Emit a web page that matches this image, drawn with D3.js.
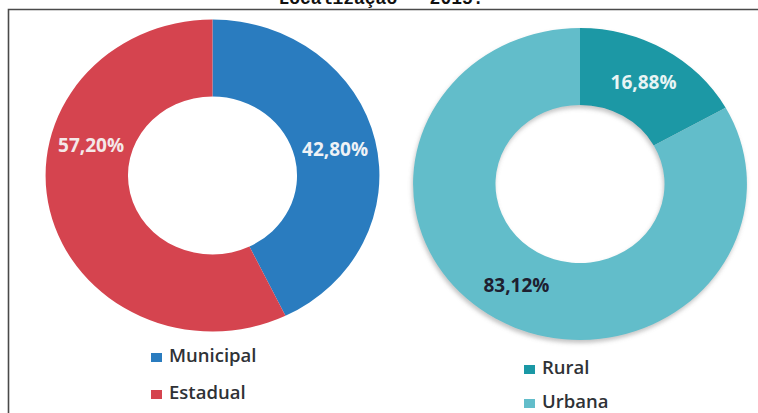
<!DOCTYPE html>
<html>
<head>
<meta charset="utf-8">
<script src="https://cdn.jsdelivr.net/npm/d3@7"></script>
<style>
  body { margin: 0; background: #fff; }
</style>
</head>
<body>
<div id="wrapper"></div>
<script>
// data
const titulo = "Localização – 2015.";
const redeCategorias = ["Municipal", "Estadual"];
const redeValores = [42.80, 57.20];
const locCategorias = ["Rural", "Urbana"];
const locValores = [16.88, 83.12];

const cores = {
  Municipal: "#2a7cbf", Estadual: "#d5444f",
  Rural: "#1a98a5", Urbana: "#62bdca"
};
const corRotulo = { Municipal: "#eef2f6", Estadual: "#f4e8e8", Rural: "#e8f4f4", Urbana: "#1e2030" };
// Excel moved this one label off its slice centre
const deslocAngulo = { Estadual: 28 };

const dimensions = { width: 758, height: 413 };

const wrapper = d3.select("#wrapper")
  .append("svg")
    .attr("width", dimensions.width)
    .attr("height", dimensions.height)
    .style("font-family", "'Open Sans', sans-serif");

// soft shadow under the second donut
const defs = wrapper.append("defs");
defs.append("filter")
    .attr("id", "sombra")
    .attr("x", "-10%").attr("y", "-10%")
    .attr("width", "120%").attr("height", "120%")
  .append("feDropShadow")
    .attr("dx", -1).attr("dy", 3)
    .attr("stdDeviation", 2)
    .attr("flood-color", "#7a7a7a")
    .attr("flood-opacity", 0.45);

// title, cut off at the top of the picture
wrapper.append("text")
  .attr("x", 381)
  .attr("y", 4)
  .attr("text-anchor", "middle")
  .style("font-family", "'Liberation Mono', monospace")
  .style("font-weight", "bold")
  .style("font-size", "18px")
  .attr("fill", "#111")
  .text(titulo);

// frame
wrapper.append("path")
  .attr("d", `M8.5,${dimensions.height} V9.5 H${dimensions.width}`)
  .attr("fill", "none")
  .attr("stroke", "#4a4a4a")
  .attr("stroke-width", 1.6);

const outer = 156, inner = 79, sx = 1.07;

function drawDonut(cx, cy, cats, vals, legend, sombra) {
  const dados = cats.map((c, i) => ({ cat: c, val: vals[i] }));
  const pie = d3.pie().sort(null).value(d => d.val);
  const arcs = pie(dados);
  const arc = d3.arc().innerRadius(inner).outerRadius(outer);

  const g = wrapper.append("g")
    .attr("transform", `translate(${cx},${cy}) scale(${sx},1)`);
  if (sombra) g.attr("filter", "url(#sombra)");

  g.selectAll("path")
    .data(arcs)
    .join("path")
      .attr("d", arc)
      .attr("fill", d => cores[d.data.cat]);

  const r = (inner + outer) / 2;
  arcs.forEach(d => {
    const a = (d.startAngle + d.endAngle) / 2 + (deslocAngulo[d.data.cat] || 0) * Math.PI / 180;
    const x = cx + Math.sin(a) * r * sx;
    const y = cy - Math.cos(a) * r;
    wrapper.append("text")
      .attr("x", x)
      .attr("y", y)
      .attr("dy", "0.35em")
      .attr("text-anchor", "middle")
      .style("font-weight", "bold")
      .style("font-size", "19px")
      .attr("fill", corRotulo[d.data.cat])
      .text(d3.format(".2f")(d.data.val).replace(".", ",") + "%");
  });

  // legend
  const lg = wrapper.append("g")
    .attr("transform", `translate(${legend.x},${legend.y})`);
  cats.forEach((c, i) => {
    lg.append("rect")
      .attr("x", 0)
      .attr("y", i * legend.step - 9)
      .attr("width", 11)
      .attr("height", 9)
      .attr("fill", cores[c]);
    lg.append("text")
      .attr("x", 18)
      .attr("y", i * legend.step)
      .style("font-size", "18.5px")
      .style("font-weight", 600)
      .attr("fill", "#2f3236")
      .text(c);
  });
}

drawDonut(212.5, 175.5, redeCategorias, redeValores, { x: 151, y: 362, step: 37 }, false);
drawDonut(580, 184, locCategorias, locValores, { x: 524, y: 374, step: 34 }, true);
</script>
</body>
</html>
